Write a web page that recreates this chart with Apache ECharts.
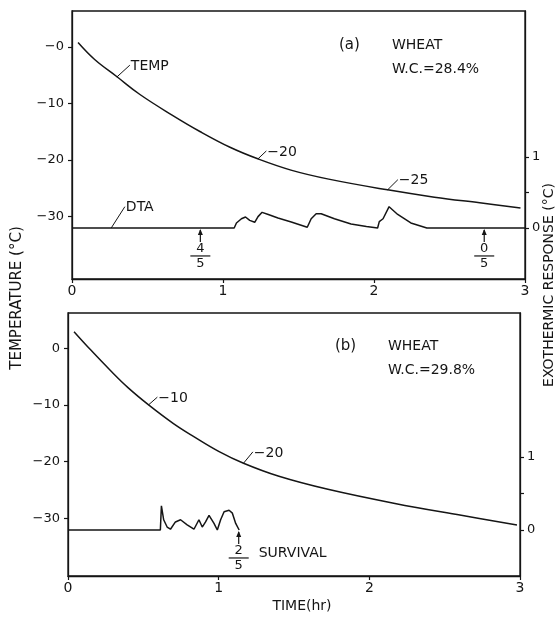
<!DOCTYPE html>
<html><head><meta charset="utf-8">
<script src="https://cdn.jsdelivr.net/npm/echarts@6/dist/echarts.min.js"></script>
<style>html,body{margin:0;padding:0;background:#fff}#c{width:560px;height:618px}</style>
</head><body><div id="c"></div>
<script>
// ---- data (time in hr, temperature in °C, exothermic response in °C) ----
const timeTopTemp = [0.04, 0.15, 0.30, 0.45, 0.66, 0.85, 1.05, 1.23, 1.45, 1.70, 2.09, 2.40, 2.70, 2.97];
const tempTop     = [0.8, -2.2, -5.3, -8.4, -12.0, -15.0, -17.8, -19.8, -21.8, -23.4, -25.3, -26.6, -27.6, -28.5];
const timeTopDTA  = [0, 1.074, 1.089, 1.122, 1.149, 1.177, 1.21, 1.232, 1.259, 1.30, 1.364, 1.452, 1.558, 1.584, 1.617, 1.65, 1.738, 1.848, 1.95, 2.024, 2.035, 2.06, 2.10, 2.157, 2.244, 2.35, 3.0];
const dtaTop      = [0, 0, 0.07, 0.13, 0.155, 0.107, 0.08, 0.16, 0.22, 0.19, 0.14, 0.085, 0.01, 0.13, 0.20, 0.20, 0.13, 0.056, 0.02, 0, 0.09, 0.13, 0.30, 0.19, 0.07, 0, 0];
const timeBotTemp = [0.04, 0.15, 0.28, 0.40, 0.535, 0.70, 0.835, 1.0, 1.165, 1.40, 1.725, 2.17, 2.61, 2.98];
const tempBot     = [2.9, -0.3, -3.9, -7.0, -10.0, -13.3, -15.6, -18.2, -20.3, -22.6, -24.9, -27.4, -29.5, -31.2];
const timeBotDTA  = [0, 0.613, 0.62, 0.635, 0.658, 0.68, 0.713, 0.747, 0.791, 0.836, 0.869, 0.891, 0.913, 0.936, 0.969, 0.991, 1.013, 1.036, 1.069, 1.091, 1.113, 1.136];
const dtaBot      = [0, 0, 0.33, 0.14, 0.04, 0.01, 0.11, 0.14, 0.07, 0.01, 0.14, 0.04, 0.11, 0.20, 0.09, 0, 0.14, 0.25, 0.27, 0.23, 0.09, 0];

const timeTicks = [0, 1, 2, 3];
const tempTickValues = [0, -10, -20, -30];
const tempTickLabelsTop = ['−0', '−10', '−20', '−30'];
const tempTickLabelsBot = ['0', '−10', '−20', '−30'];
const dtaTickValues = [0, 0.5, 1];
const dtaLabelValues = [0, 1];
const dtaLabels = ['0', '1'];

const curveNotes = [
  {text: 'TEMP', series: 0, from: [0.297, -5.3], to: [0.383, -3.2]},
  {text: '−20', series: 0, from: [1.232, -19.8], to: [1.287, -18.4]},
  {text: '−25', series: 0, from: [2.09, -25.3], to: [2.158, -23.5]},
  {text: 'DTA', series: 1, from: [0.26, 0], to: [0.35, 0.30]},
  {text: '−10', series: 2, from: [0.535, -10.0], to: [0.593, -8.64]},
  {text: '−20', series: 2, from: [1.165, -20.3], to: [1.227, -18.3]}
];
const survivalMarks = [
  {series: 1, t: 0.85, num: '4', den: '5'},
  {series: 1, t: 2.73, num: '0', den: '5'},
  {series: 3, t: 1.133, num: '2', den: '5', note: 'SURVIVAL'}
];
const panelTexts = [
  {tag: '(a)', name: 'WHEAT', wc: 'W.C.=28.4%'},
  {tag: '(b)', name: 'WHEAT', wc: 'W.C.=29.8%'}
];

// ---- chart ----
const INK = '#151515';
const FONT = 'DejaVu Sans';
const chart = echarts.init(document.getElementById('c'), null, {renderer: 'canvas'});

function xAx(g) {
  return {
    type: 'value', gridIndex: g, min: 0, max: 3, interval: 1, position: 'bottom',
    axisLine: {show: true, onZero: false, lineStyle: {color: INK, width: 1.3}},
    axisTick: {show: true, length: 4, lineStyle: {color: INK, width: 1.2}},
    axisLabel: {color: INK, fontFamily: FONT, fontSize: 14, margin: 5, formatter: v => String(v)},
    splitLine: {show: false}
  };
}
function tempAx(g, min, max, labels) {
  return {
    type: 'value', gridIndex: g, position: 'left', min: min, max: max,
    axisLine: {show: true, onZero: false, lineStyle: {color: INK, width: 1.3}},
    axisTick: {show: true, length: 4, customValues: tempTickValues, lineStyle: {color: INK, width: 1.2}},
    axisLabel: {color: INK, fontFamily: FONT, fontSize: 13, margin: 8, customValues: tempTickValues,
      formatter: v => labels[tempTickValues.indexOf(v)]},
    splitLine: {show: false}
  };
}
function dtaAx(g, min, max) {
  return {
    type: 'value', gridIndex: g, position: 'right', min: min, max: max,
    axisLine: {show: true, onZero: false, lineStyle: {color: INK, width: 1.3}},
    axisTick: {show: true, length: 4, customValues: dtaTickValues, lineStyle: {color: INK, width: 1.2}},
    axisLabel: {color: INK, fontFamily: FONT, fontSize: 13, margin: 7, customValues: dtaLabelValues,
      formatter: v => dtaLabels[dtaLabelValues.indexOf(v)]},
    splitLine: {show: false}
  };
}
function line(xi, yi, xs, ys, smooth) {
  return {
    type: 'line', xAxisIndex: xi, yAxisIndex: yi, showSymbol: false, animation: false,
    data: xs.map((x, i) => [x, ys[i]]),
    lineStyle: {color: INK, width: 1.5}, smooth: smooth
  };
}

chart.setOption({
  backgroundColor: '#fff',
  animation: false,
  grid: [
    {left: 72, right: 35, top: 11, height: 268, show: true, borderColor: INK, borderWidth: 1.3, backgroundColor: 'transparent'},
    {left: 68, right: 40, top: 313, height: 263, show: true, borderColor: INK, borderWidth: 1.3, backgroundColor: 'transparent'}
  ],
  xAxis: [xAx(0), xAx(1)],
  yAxis: [
    tempAx(0, -41.1, 6.4, tempTickLabelsTop),
    dtaAx(0, -0.72, 3.06),
    tempAx(1, -40.2, 6.2, tempTickLabelsBot),
    dtaAx(1, -0.63, 2.97)
  ],
  series: [
    line(0, 0, timeTopTemp, tempTop, 0.4),
    line(0, 1, timeTopDTA, dtaTop, false),
    line(1, 2, timeBotTemp, tempBot, 0.4),
    line(1, 3, timeBotDTA, dtaBot, false)
  ]
});

// ---- annotations ----
const P = (s, pt) => chart.convertToPixel({seriesIndex: s}, pt);
const txt = (x, y, text, extra) => Object.assign({
  type: 'text', x: x, y: y,
  style: {text: text, fill: INK, font: '14px "' + FONT + '"', textAlign: 'left', textVerticalAlign: 'middle'}
}, extra || {});
const els = [];
curveNotes.forEach(n => {
  const a = P(n.series, n.from), b = P(n.series, n.to);
  els.push({type: 'line', shape: {x1: a[0], y1: a[1], x2: b[0], y2: b[1]}, style: {stroke: INK, lineWidth: 1}});
  els.push(txt(b[0] + 1, b[1] + 1, n.text));
});
survivalMarks.forEach(m => {
  const p = P(m.series, [m.t, 0]);
  const x = p[0], y = p[1];
  els.push({type: 'line', shape: {x1: x, y1: y + 2, x2: x, y2: y + 14}, style: {stroke: INK, lineWidth: 1.2}});
  els.push({type: 'polygon', shape: {points: [[x, y + 1], [x - 2.5, y + 7], [x + 2.5, y + 7]]}, style: {fill: INK}});
  els.push(txt(x, y + 21, m.num, {style: {text: m.num, fill: INK, font: '13px "' + FONT + '"', textAlign: 'center', textVerticalAlign: 'middle'}}));
  els.push({type: 'line', shape: {x1: x - 10, y1: y + 28, x2: x + 10, y2: y + 28}, style: {stroke: INK, lineWidth: 1.2}});
  els.push(txt(x, y + 36, m.den, {style: {text: m.den, fill: INK, font: '13px "' + FONT + '"', textAlign: 'center', textVerticalAlign: 'middle'}}));
  if (m.note) els.push(txt(x + 20, y + 23, m.note));
});
// panel legends
const panelPos = [[339, 392, 45, 69], [335, 388, 346, 370]];
panelTexts.forEach((p, i) => {
  const q = panelPos[i];
  els.push(txt(q[0], q[2], p.tag, {style: {text: p.tag, fill: INK, font: '15px "' + FONT + '"', textAlign: 'left', textVerticalAlign: 'middle'}}));
  els.push(txt(q[1], q[2], p.name));
  els.push(txt(q[1], q[3], p.wc));
});
// axis titles
els.push({type: 'text', x: 17, y: 298, rotation: Math.PI / 2,
  style: {text: 'TEMPERATURE (°C)', fill: INK, font: '15px "' + FONT + '"', textAlign: 'center', textVerticalAlign: 'middle'}});
els.push({type: 'text', x: 549, y: 285, rotation: Math.PI / 2,
  style: {text: 'EXOTHERMIC RESPONSE (°C)', fill: INK, font: '14px "' + FONT + '"', textAlign: 'center', textVerticalAlign: 'middle'}});
els.push({type: 'text', x: 302, y: 606,
  style: {text: 'TIME(hr)', fill: INK, font: '14px "' + FONT + '"', textAlign: 'center', textVerticalAlign: 'middle'}});

chart.setOption({graphic: {elements: els}});
</script></body></html>
